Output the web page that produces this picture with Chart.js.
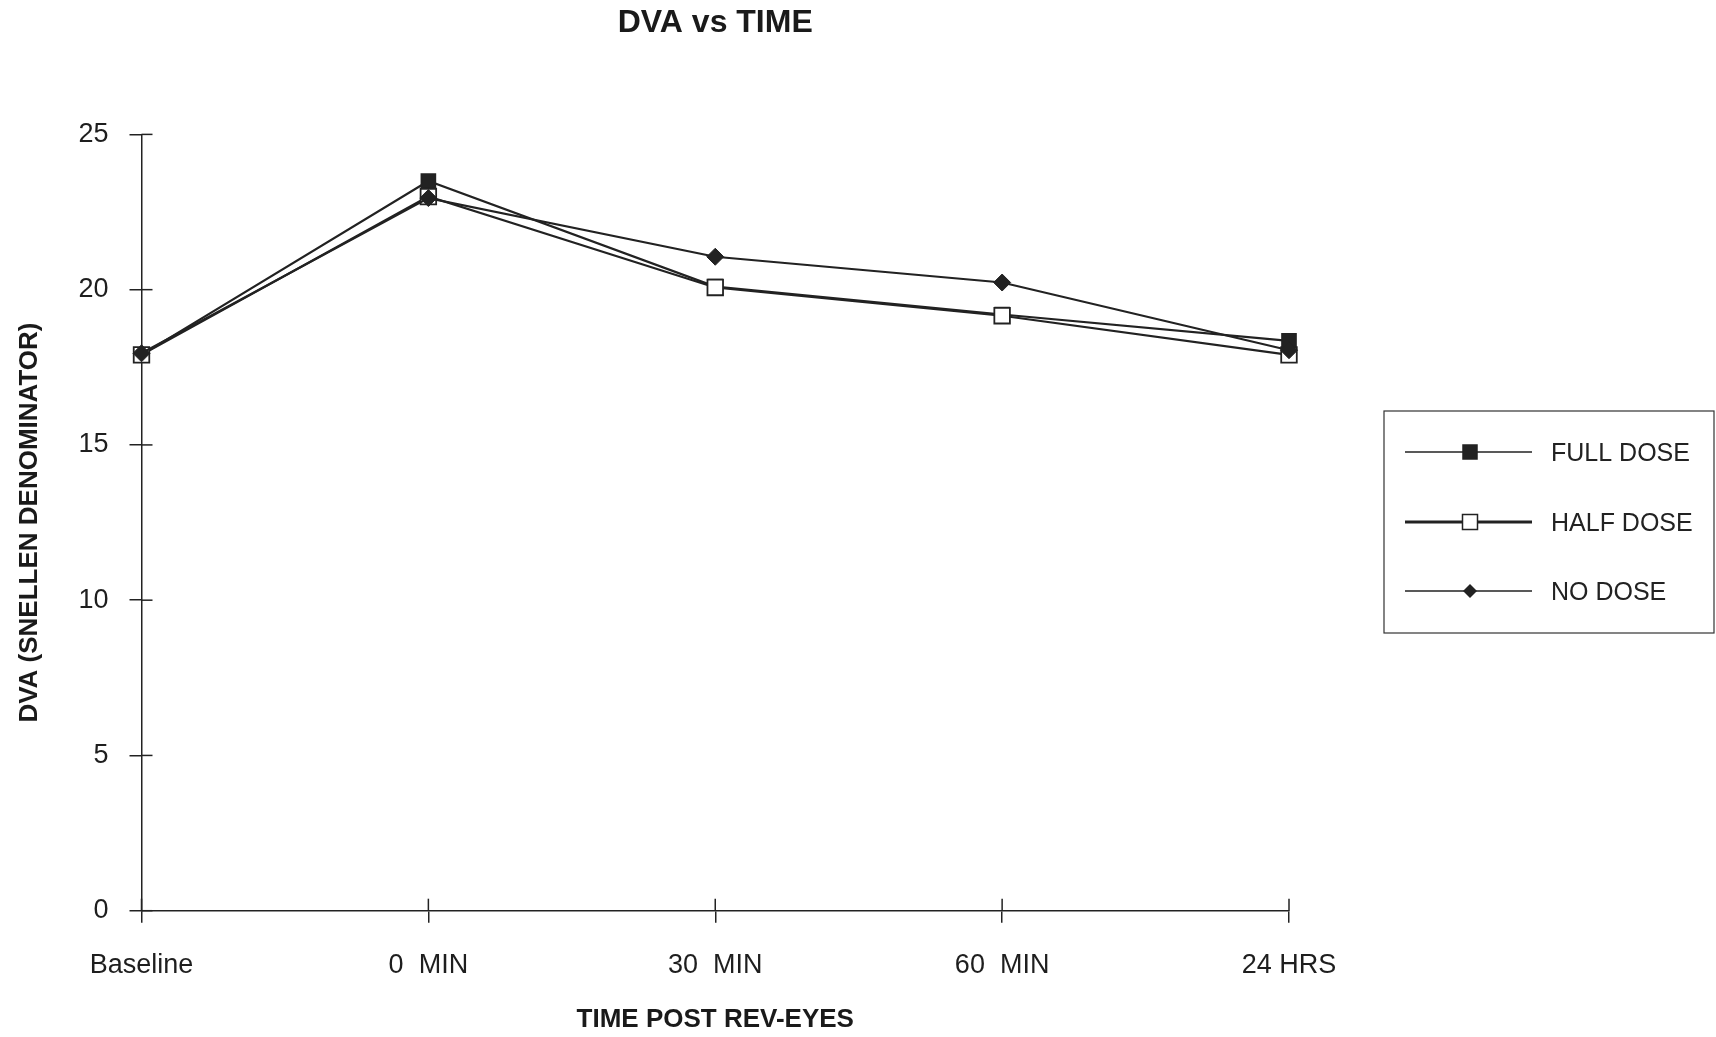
<!DOCTYPE html>
<html>
<head>
<meta charset="utf-8">
<script src="https://cdn.jsdelivr.net/npm/chart.js@4"></script>
<style>
  html, body { margin: 0; padding: 0; background: #fff; }
  #wrap { width: 1716px; height: 1037px; }
</style>
</head>
<body>
<div id="wrap"><canvas id="c" width="1716" height="1037"></canvas></div>
<script>
// Time points after the eye drops
const timeLabels = ['Baseline', '0  MIN', '30  MIN', '60  MIN', '24 HRS'];

// Distance visual acuity (Snellen denominator) per group
const fullDose = [17.9, 23.5, 20.1, 19.2, 18.35];
const halfDose = [17.9, 23.0, 20.07, 19.16, 17.9];
const noDose   = [17.95, 22.95, 21.06, 20.23, 18.05];

const seriesNames = ['FULL DOSE', 'HALF DOSE', 'NO DOSE'];

const ink = '#222222';
const FONT = '"Liberation Sans", Arial, sans-serif';

// Short marks on the inner side of each axis so ticks cross the axis line
const crossTicks = {
  id: 'crossTicks',
  afterDraw(chart) {
    const ctx = chart.ctx;
    const area = chart.chartArea;
    const xs = chart.scales.x, ys = chart.scales.y;
    ctx.save();
    ctx.strokeStyle = ink;
    ctx.lineWidth = 1.5;
    ys.ticks.forEach((t, i) => {
      const y = ys.getPixelForTick(i);
      ctx.beginPath(); ctx.moveTo(area.left, y); ctx.lineTo(area.left + 11, y); ctx.stroke();
    });
    xs.ticks.forEach((t, i) => {
      const x = xs.getPixelForTick(i);
      ctx.beginPath(); ctx.moveTo(x, area.bottom); ctx.lineTo(x, area.bottom - 12); ctx.stroke();
    });
    ctx.restore();
  }
};

// Boxed key at the right of the plot
const boxedKey = {
  id: 'boxedKey',
  afterDraw(chart) {
    const ctx = chart.ctx;
    const bx = 1384, by = 411, bw = 330, bh = 222;
    ctx.save();
    ctx.strokeStyle = '#333';
    ctx.lineWidth = 1.2;
    ctx.strokeRect(bx, by, bw, bh);
    const rows = [452, 522, 591];
    chart.data.datasets.forEach((ds, i) => {
      const y = rows[i];
      const cx = 1470;
      ctx.strokeStyle = ds.borderColor;
      ctx.lineWidth = i === 1 ? 3 : 1.4;
      ctx.beginPath(); ctx.moveTo(1405, y); ctx.lineTo(1532, y); ctx.stroke();
      ctx.lineWidth = 1.5;
      if (ds.pointStyle === 'rect') {
        const s = i === 1 ? 15 : 14;
        ctx.fillStyle = ds.pointBackgroundColor;
        ctx.fillRect(cx - s / 2, y - s / 2, s, s);
        ctx.strokeStyle = ds.pointBorderColor;
        ctx.strokeRect(cx - s / 2, y - s / 2, s, s);
      } else {
        const r = 7;
        ctx.fillStyle = ds.pointBackgroundColor;
        ctx.beginPath();
        ctx.moveTo(cx, y - r); ctx.lineTo(cx + r, y); ctx.lineTo(cx, y + r); ctx.lineTo(cx - r, y);
        ctx.closePath(); ctx.fill();
      }
      ctx.fillStyle = '#222';
      ctx.font = '25px ' + FONT;
      ctx.textAlign = 'left';
      ctx.textBaseline = 'middle';
      ctx.fillText(ds.label, 1551, y + 2);
    });
    ctx.restore();
  }
};

new Chart(document.getElementById('c'), {
  type: 'line',
  data: {
    labels: timeLabels,
    datasets: [
      {
        label: seriesNames[0], data: fullDose, order: 2,
        borderColor: ink, borderWidth: 2.2,
        pointStyle: 'rect', pointRadius: 10, pointBorderWidth: 1.5,
        pointBackgroundColor: ink, pointBorderColor: ink
      },
      {
        label: seriesNames[1], data: halfDose, order: 1,
        borderColor: ink, borderWidth: 2.2,
        pointStyle: 'rect', pointRadius: 11, pointBorderWidth: 1.8,
        pointBackgroundColor: '#fff', pointBorderColor: ink
      },
      {
        label: seriesNames[2], data: noDose, order: 0,
        borderColor: ink, borderWidth: 2.2,
        pointStyle: 'rectRot', pointRadius: 8.5, pointBorderWidth: 1,
        pointBackgroundColor: ink, pointBorderColor: ink
      }
    ]
  },
  options: {
    responsive: false,
    animation: false,
    events: [],
    layout: { padding: { left: 14, right: 427, top: 4, bottom: 2 } },
    plugins: {
      legend: { display: false },
      tooltip: { enabled: false },
      title: {
        display: true,
        fullSize: false,
        text: 'DVA vs TIME',
        color: '#1a1a1a',
        font: { family: FONT, size: 32, weight: 'bold' },
        padding: { top: 0, bottom: 92 }
      }
    },
    scales: {
      x: {
        type: 'category',
        offset: false,
        afterFit(scale) { scale.height = 124.3; },
        grid: {
          drawOnChartArea: false, drawTicks: true, tickLength: 12,
          color: ink, tickColor: ink, lineWidth: 1.5
        },
        border: { color: ink, width: 1.5 },
        ticks: {
          color: '#1e1e1e', padding: 27, maxRotation: 0, autoSkip: false,
          font: { family: FONT, size: 27 }
        },
        title: {
          display: true, text: 'TIME POST REV-EYES', color: '#1a1a1a',
          font: { family: FONT, size: 26, weight: 'bold' },
          padding: { top: 20, bottom: 0 }
        }
      },
      y: {
        min: 0, max: 25,
        afterFit(scale) { scale.width = 127.5; },
        grid: {
          drawOnChartArea: false, drawTicks: true, tickLength: 12,
          color: ink, tickColor: ink, lineWidth: 1.5
        },
        border: { color: ink, width: 1.5 },
        ticks: {
          stepSize: 5, color: '#1e1e1e', padding: 21,
          font: { family: FONT, size: 27 }
        },
        title: {
          display: true, text: 'DVA (SNELLEN DENOMINATOR)', color: '#1a1a1a',
          font: { family: FONT, size: 26, weight: 'bold' },
          padding: 0
        }
      }
    }
  },
  plugins: [crossTicks, boxedKey]
});
</script>
</body>
</html>
